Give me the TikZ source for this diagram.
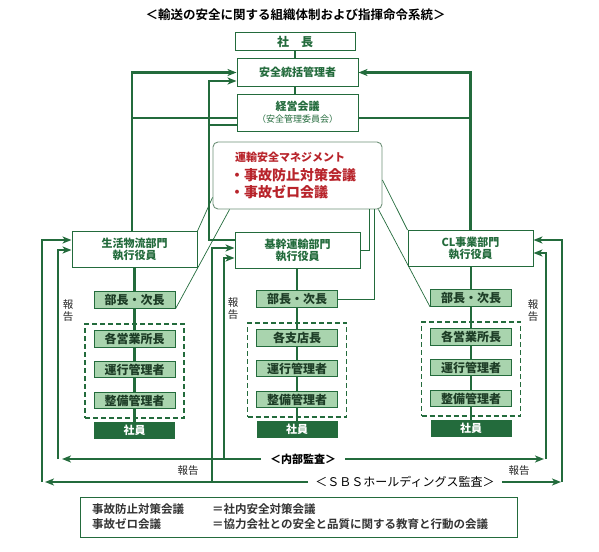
\documentclass[tikz,border=0pt]{standalone}
\usepackage{fontspec}
\setmainfont{Noto Sans CJK JP}[BoldFont={Noto Sans CJK JP Bold}]
\newfontfamily\heavy{Noto Sans CJK JP Black}
\usetikzlibrary{arrows.meta,calc,positioning}
\definecolor{dkgreen}{HTML}{236B3C}
\definecolor{ltgreen}{HTML}{A9D4AE}
\definecolor{boxtext}{HTML}{1D3D26}
\definecolor{redtext}{HTML}{B8242B}
\definecolor{rimgray}{HTML}{6E9178}

\begin{document}
\begin{tikzpicture}[x=1pt,y=-1pt,
  exec/.style={draw=dkgreen,line width=1pt,fill=white,minimum width=125pt,minimum height=36pt,inner sep=0pt,align=center,text=dkgreen,font=\heavy\fontsize{11}{12}\selectfont},
  rank/.style={draw=dkgreen,line width=1pt,fill=ltgreen,minimum width=81pt,minimum height=16.5pt,inner sep=0pt,text=boxtext,font=\heavy\fontsize{12}{12}\selectfont},
  staff/.style={fill=dkgreen,minimum width=81pt,minimum height=17pt,inner sep=0pt,text=white,font=\heavy\fontsize{11}{12}\selectfont},
  unitbox/.style={draw=dkgreen,dash pattern=on 5pt off 3pt,line width=1.5pt,minimum width=99pt,minimum height=94pt,inner sep=0pt},
  mgmttext/.style={anchor=west,inner sep=0pt,text=redtext,font=\heavy\fontsize{14}{14}\selectfont},
  trunk/.style={draw=dkgreen,line width=2.6pt},
  feed/.style={draw=dkgreen,line width=2.6pt,-{Stealth[length=9pt,width=7pt,inset=2.5pt]}},
  tie/.style={draw=dkgreen,line width=0.7pt},
  reptext/.style={inner sep=0pt,align=center,text=black!85,font=\fontsize{10.5}{12}\selectfont},
  legendtext/.style={anchor=west,inner sep=0pt,text=black!80,font=\bfseries\fontsize{11.5}{12}\selectfont}
]
\useasboundingbox (0,0) rectangle (599,551);

\node[inner sep=0pt,font=\bfseries\fontsize{12.5}{14}\selectfont] (title) at (295.5,15) {＜輸送の安全に関する組織体制および指揮命令系統＞};

\node[exec,minimum width=120pt,minimum height=18pt,font=\heavy\fontsize{12}{12}\selectfont] (pres) at (295,42) {社　長};
\node[exec,minimum width=121pt,minimum height=27pt] (safe) at (297.5,72.5) {安全統括管理者};
\node[exec,minimum width=121pt,minimum height=37pt] (mtg) at (297.5,112.5) {経営会議\\{\normalfont\fontsize{9}{10}\selectfont （安全管理委員会）}};

\node[draw=rimgray,line width=0.9pt,rounded corners=5pt,fill=white,minimum width=169pt,minimum height=67pt] (red) at (297.5,175.5) {};
\node[mgmttext,font=\heavy\fontsize{11}{12}\selectfont] (mgmt) at (235,157) {運輸安全マネジメント};
\node[mgmttext] (plan) at (230,175) {・事故防止対策会議};
\node[mgmttext] (zero) at (230,192) {・事故ゼロ会議};

\node[exec] (life) at (134.5,249.5) {生活物流部門\\執行役員};
\node[exec] (core) at (297.5,250) {基幹運輸部門\\執行役員};
\node[exec] (cl) at (470.5,248.5) {CL事業部門\\執行役員};

\foreach \c/\e/\x/\dy/\head in {a/life/134.5/0/各営業所長, b/core/297/-1/各支店長, c/cl/471/-2/各営業所長} {
  \node[unitbox] (\c0) at (\x,371+\dy) {};
  \node[rank] (\c1) at (\x,300+\dy) {部長・次長};
  \node[rank] (\c2) at (\x,339+\dy) {\head};
  \node[rank] (\c3) at (\x,369.5+\dy) {運行管理者};
  \node[rank] (\c4) at (\x,400.5+\dy) {整備管理者};
  \node[staff] (\c5) at (\x,430.5+\dy) {社員};
  \draw[trunk] (\e.south -| \c1) -- (\c1.north);
  \foreach \p/\q in {1/2,2/3,3/4,4/5}
    \draw[trunk] (\c\p) -- (\c\q);
}

\draw[trunk] (pres.south) -- (pres.south |- safe.north);
\draw[trunk] (safe.south -| pres) -- (mtg.north -| pres);

\coordinate (lj) at (132,118);
\coordinate (mj) at (209,125);
\coordinate (rj) at (470.5,118);
\draw[feed] ([xshift=-2.5pt]life.north) |- (safe.west);
\draw[trunk] (lj) -- (lj -| mtg.west);
\draw[feed] ($(core.west)+(0,-10)$) -| (mj) |- ($(safe.west)+(0,8.5)$);
\draw[trunk] (mj) -- (mj -| mtg.west);
\draw[feed] (cl.north) |- (safe.east);
\draw[trunk] (rj) -- (rj -| mtg.east);

\draw[tie] ($(red.south west)+(0,-12)$) -- (life.north east);
\draw[tie] ($(red.south west)+(17,0)$) -- (a1.south east);
\draw[tie] ($(red.south east)+(-13,0)$) |- (core.east);
\draw[tie] ($(red.south east)+(-8,0)$) |- (b1.east);
\draw[tie] ($(red.east)+(0,4.5)$) -- (cl.north west);
\draw[tie] ($(red.south east)+(-4,0)$) -- (c1.south west);

\coordinate (lo) at (42,482);
\coordinate (li) at (58,459);
\coordinate (mo) at (212,482);
\coordinate (mi) at (224,459);
\coordinate (ro) at (562,482);
\coordinate (ri) at (546,459);
\draw[feed] (lo) |- ($(life.west)+(0,-9.5)$);
\draw[feed] (li) |- ($(life.west)+(0,0.5)$);
\draw[feed] (mo) |- ($(core.west)+(0,-2)$);
\draw[feed] (mi) |- ($(core.west)+(0,8)$);
\draw[feed] (ro) |- ($(cl.east)+(0,-8.5)$);
\draw[feed] (ri) |- ($(cl.east)+(0,4.5)$);

\node[inner xsep=9pt,inner ysep=0pt,font=\heavy\fontsize{11}{12}\selectfont] (audit) at (303,459) {＜内部監査＞};
\node[inner xsep=7pt,inner ysep=0pt,font=\fontsize{12}{12}\selectfont] (sbs) at (405,482) {＜ＳＢＳホールディングス監査＞};
\draw[feed] (audit.west) -- ($(li)+(4,0)$);
\draw[feed] (audit.east) -- ($(ri)+(-2,0)$);
\draw[feed] (sbs.west) -- ($(lo)+(3,0)$);
\draw[feed] (sbs.east) -- ($(ro)+(-1,0)$);

\node[reptext] (rep1) at (68,311) {報\\告};
\node[reptext] (rep2) at (233,309) {報\\告};
\node[reptext] (rep3) at (533,311) {報\\告};
\node[reptext] (rep4) at (188,471) {報告};
\node[reptext] (rep5) at (519,471) {報告};

\node[draw=dkgreen,line width=1pt,minimum width=437pt,minimum height=40pt,inner sep=0pt] (legend) at (298.5,517) {};
\node[legendtext] (k1) at (92,509) {事故防止対策会議};
\node[legendtext] (v1) at (212,509) {＝社内安全対策会議};
\node[legendtext] (k2) at (92,524) {事故ゼロ会議};
\node[legendtext] (v2) at (212,524) {＝協力会社との安全と品質に関する教育と行動の会議};
\end{tikzpicture}
\end{document}
